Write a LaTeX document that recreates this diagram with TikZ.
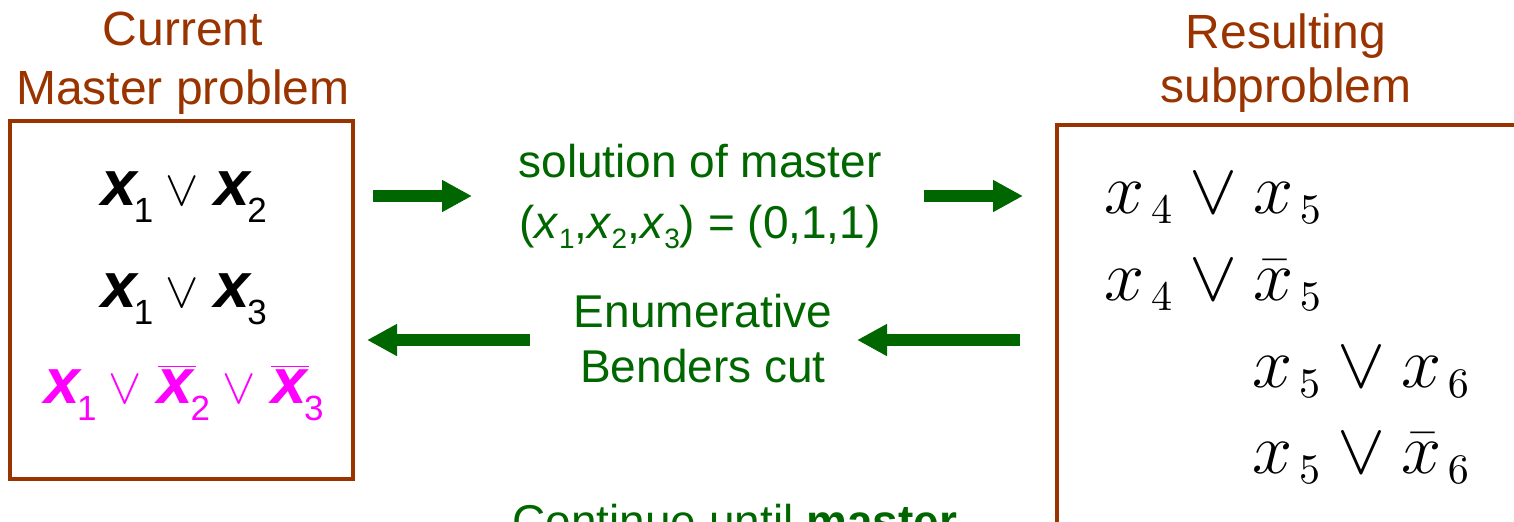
\RequirePackage{fix-cm}
\documentclass[tikz,border=0pt]{standalone}
\usepackage[no-math]{fontspec}
\setmainfont{Liberation Sans}
\usepackage{xcolor}
\usetikzlibrary{arrows.meta}

\definecolor{boxbrown}{RGB}{153,51,0}
\definecolor{cutgreen}{RGB}{0,102,0}
\definecolor{cutpink}{RGB}{255,0,255}
\DeclareMathSizes{36}{36}{20}{15}
\DeclareFontFamily{OT1}{cmten}{}
\DeclareFontShape{OT1}{cmten}{m}{n}{<-> cmr10}{}

% literals of the master problem
\newcommand{\mx}[1]{\textbf{\textit{x}}\hspace{-2.5pt}\raisebox{-8.5pt}{\fontsize{17.5}{18}\selectfont #1}}
\newcommand{\mxbar}[1]{$\overline{\mbox{\textbf{\textit{x}}}}$\hspace{-2.5pt}\raisebox{-8.5pt}{\fontsize{17.5}{18}\selectfont #1}}
\newcommand{\mor}{\hspace{6pt}{\fontsize{25}{25}\selectfont$\vee$}\hspace{8pt}}
\newcommand{\gx}[1]{\textit{x}\raisebox{-5pt}{\fontsize{14}{14}\selectfont #1}}
% literals of the subproblem
\newcommand{\snum}[1]{\mbox{\fontencoding{OT1}\fontfamily{cmten}\fontseries{m}\fontshape{n}\fontsize{21}{21}\selectfont #1}}
\newcommand{\sx}[1]{x_{\,\snum{#1}}}
\newcommand{\sxbar}[1]{\bar{x}_{\,\snum{#1}}}

\begin{document}
\begin{tikzpicture}[x=0.5pt, y=-0.5pt,
    title/.style={text=boxbrown, font=\fontsize{24}{29}\selectfont, inner sep=0pt, anchor=base},
    note/.style={text=cutgreen, font=\fontsize{23}{29}\selectfont, inner sep=0pt, anchor=base},
    lit/.style={font=\fontsize{32}{36}\selectfont, inner sep=0pt, anchor=base},
    clause/.style={font=\fontsize{36}{40}\selectfont, inner sep=0pt, anchor=base west},
    frame/.style={draw=boxbrown, line width=1.6pt},
    fat/.style={draw=cutgreen, line width=6pt, -{Triangle[length=15pt,width=15pt]}}]
\useasboundingbox (0,0) rectangle (1514,521);
\clip (0,0) rectangle (1514,521);

% Master side
\node[title] (mt1) at (183,45) {Current};
\node[title] (mt2) at (183,104) {Master problem};
\draw[frame] (10,121) rectangle (353,479);
\node[lit] (c1) at (184,205) {\mx{1}\mor\mx{2}};
\node[lit] (c2) at (184,307) {\mx{1}\mor\mx{3}};
\node[lit, text=cutpink] (c3) at (184,403) {\mx{1}\mor\mxbar{2}\mor\mxbar{3}};

% Subproblem side
\node[title] (st1) at (1286,48) {Resulting};
\node[title] (st2) at (1286,102) {subproblem};
\draw[frame] (1057,125) rectangle (1600,600);
\node[clause] (d1) at (1104,213) {$\sx{4} \vee \sx{5}$};
\node[clause] (d2) at (1104,300) {$\sx{4} \vee \sxbar{5}$};
\node[clause] (d3) at (1252,387) {$\sx{5} \vee \sx{6}$};
\node[clause] (d4) at (1252,473) {$\sx{5} \vee \sxbar{6}$};

% Messages
\node[note] (sol) at (700,177) {solution of master};
\node[note] (val) at (700,238) {(\gx{1},\gx{2},\gx{3}) = (0,1,1)};
\node[note] (enu) at (703,327) {Enumerative};
\node[note] (ben) at (703,382) {Benders cut};
\node[note, anchor=base west] (cont) at (512,537) {Continue until \textbf{master}};

\coordinate (a1s) at (373,196);
\coordinate (a1e) at (472,196);
\coordinate (a2s) at (924,196);
\coordinate (a2e) at (1023,196);
\coordinate (b1s) at (530,340);
\coordinate (b1e) at (367,340);
\coordinate (b2s) at (1020,340);
\coordinate (b2e) at (857,340);
\draw[fat] (a1s) -- (a1e);
\draw[fat] (a2s) -- (a2e);
\draw[fat] (b1s) -- (b1e);
\draw[fat] (b2s) -- (b2e);
\end{tikzpicture}
\end{document}
